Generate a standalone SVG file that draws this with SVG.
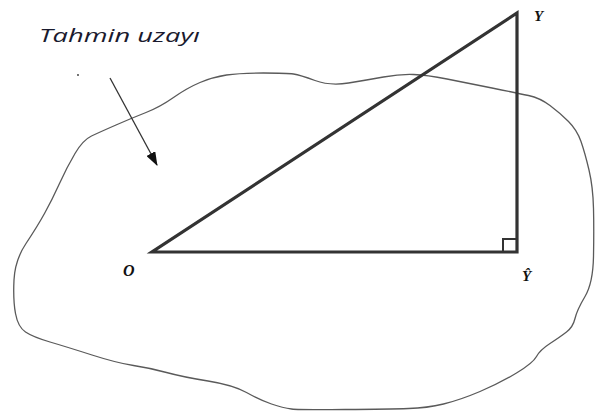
<svg xmlns="http://www.w3.org/2000/svg" width="595" height="412" viewBox="0 0 595 412">
<style>
.blob{fill:none;stroke:#5a5a5a;stroke-width:1.3;stroke-linejoin:round}
.tri{fill:none;stroke:#333;stroke-width:3.2;stroke-linejoin:miter}
.sq{fill:none;stroke:#333;stroke-width:2}
.lbl{font-family:"Liberation Serif",serif;font-style:italic;font-weight:bold;fill:#111}
.title{font-family:"Open Sans","Liberation Sans",sans-serif;font-style:italic;font-size:18.5px;fill:#1a1a2e}
.arr{stroke:#333;stroke-width:1.3;fill:none}
</style>
<defs>
<marker id="ah" markerWidth="14" markerHeight="10" refX="13" refY="5" orient="auto" markerUnits="userSpaceOnUse">
<path d="M0,0 L14,5 L0,10 z" fill="#111"/>
</marker>
</defs>
<rect width="595" height="412" fill="#fff"/>
<g id="space">
<path class="blob" d="M44.5,213.5 Q52,200 59.5,183.5 Q67,167 75,153.5 Q83,140 91.5,136 Q100,132 116,125 Q132,118 146,112.5 Q160,107 173.5,97.5 Q187,88 200,82.5 Q213,77 226.5,75 Q240,73 263.5,73 Q287,73 293.5,74 Q300,75 315,80.5 Q330,86 348.5,83 Q367,80 383.5,77 Q400,74 413.5,74.5 Q427,75 447,79 Q467,83 492,88 Q517,93 528.5,95.5 Q540,98 550,105.5 Q560,113 568.5,121.5 Q577,130 581,141.5 Q585,153 589,170 Q593,187 593.5,208.5 Q594,230 593.5,256.5 Q593,283 585,296.5 Q577,310 575,318.5 Q573,327 566.5,332 Q560,337 550,343.5 Q540,350 536.5,356.5 Q533,363 516.5,373 Q500,383 480,391.5 Q460,400 443.5,404 Q427,408 408.5,408.5 Q390,409 345,409.5 Q300,410 291.5,409 Q283,408 271.5,404 Q260,400 246.5,392.5 Q233,385 208,381 Q183,377 166.5,372.5 Q150,368 133.5,365.5 Q117,363 92,355 Q67,347 50,342 Q33,337 25.5,332 Q18,327 15.5,313.5 Q13,300 14,280 Q15,260 26,243.5 Q37,227 44.5,213.5 Z"/>
</g>
<g id="title">
<text class="title" x="39" y="42" textLength="161" lengthAdjust="spacingAndGlyphs">Tahmin uzayı</text>
<circle cx="78" cy="75" r="0.9" fill="#333"/>
</g>
<g id="connectors">
<line class="arr" x1="110" y1="78" x2="157" y2="165" marker-end="url(#ah)"/>
</g>
<g id="triangle">
<polygon class="tri" points="152,252 517,252 517,13"/>
<polyline class="sq" points="503,252 503,239 517,239"/>
</g>
<g id="O">
<text class="lbl" x="123" y="276" font-size="16">O</text>
</g>
<g id="Y">
<text class="lbl" x="534" y="21" font-size="15">Y</text>
</g>
<g id="Yhat">
<text class="lbl" x="522" y="281" font-size="15">Ŷ</text>
</g>
</svg>
